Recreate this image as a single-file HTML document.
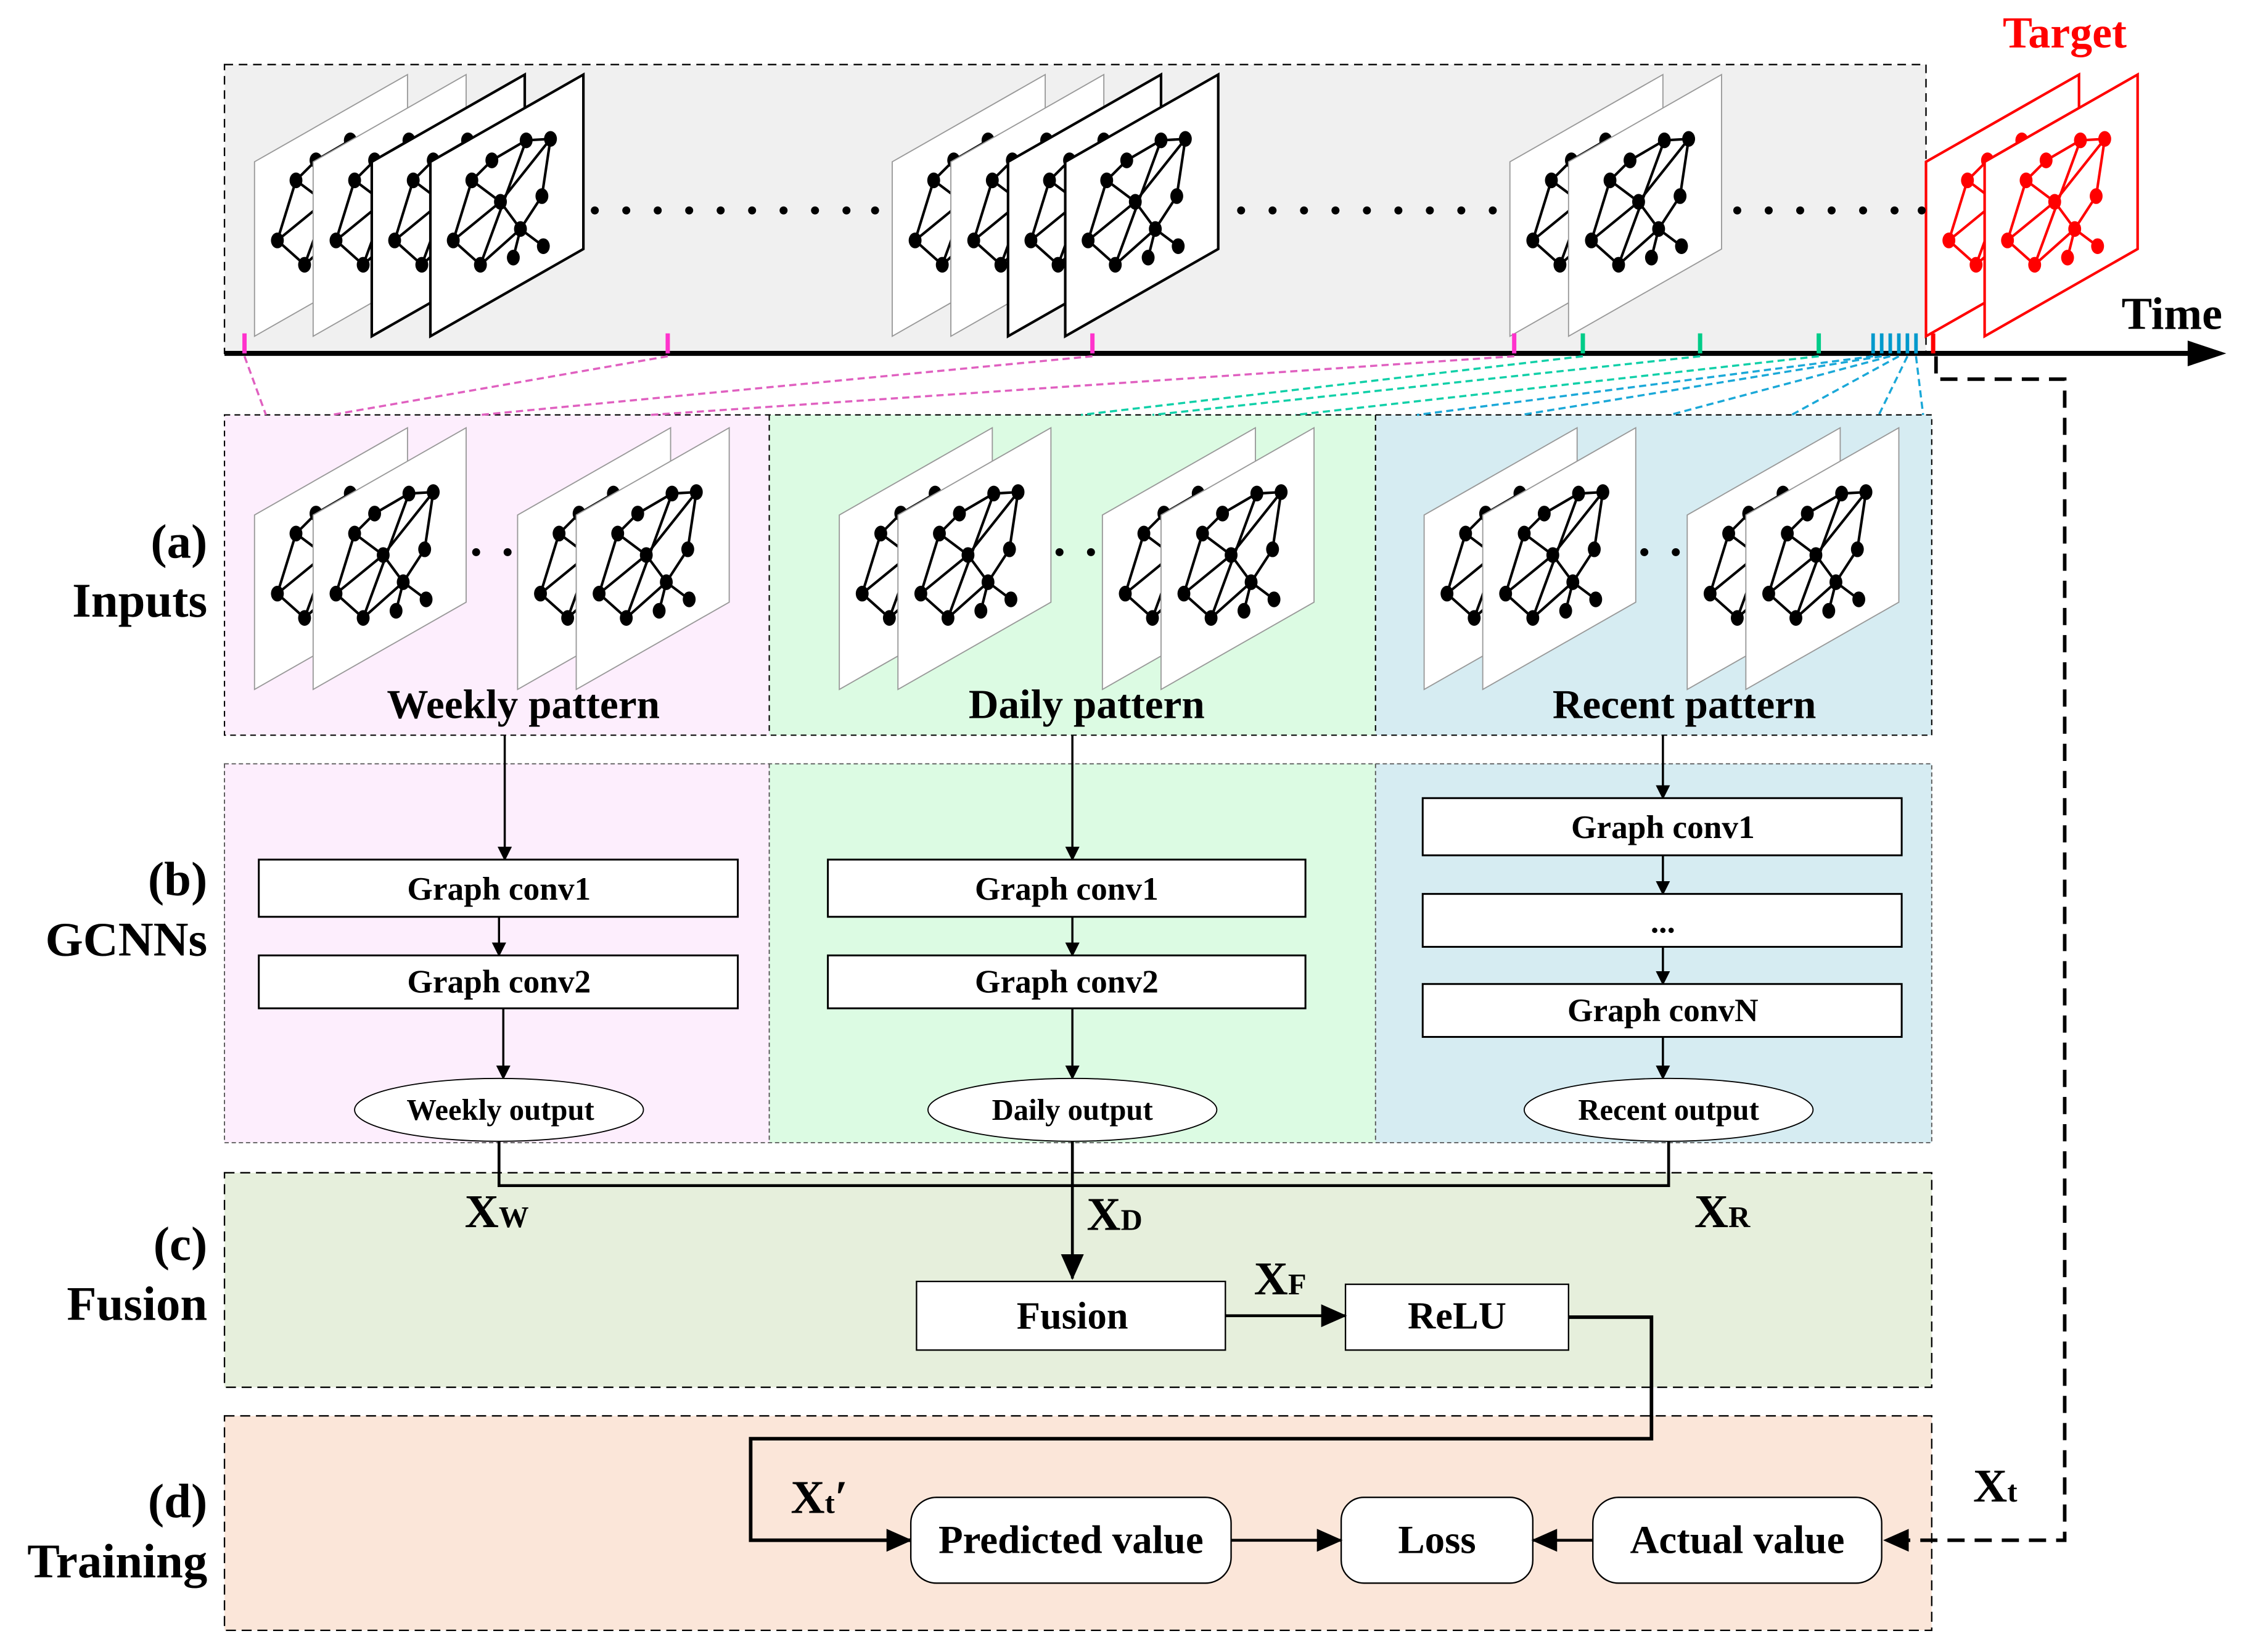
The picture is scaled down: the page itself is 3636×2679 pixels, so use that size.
<!DOCTYPE html>
<html><head><meta charset="utf-8">
<style>
html,body{margin:0;padding:0;background:#fff;}
svg{display:block;}
text{font-family:"Liberation Serif",serif;font-weight:bold;fill:#000;}
</style></head>
<body>
<svg width="3636" height="2679" viewBox="0 0 1568 1155" xmlns="http://www.w3.org/2000/svg" xmlns:xlink="http://www.w3.org/1999/xlink">
<defs>
  <g id="gr">
    <g stroke-width="1.8" fill="none">
      <line x1="67" y1="-137" x2="84" y2="-138"/>
      <line x1="67" y1="-137" x2="43" y2="-123"/>
      <line x1="43" y1="-123" x2="29" y2="-109"/>
      <line x1="29" y1="-109" x2="49" y2="-94"/>
      <line x1="29" y1="-109" x2="16" y2="-67"/>
      <line x1="84" y1="-138" x2="78" y2="-98"/>
      <line x1="84" y1="-138" x2="49" y2="-94"/>
      <line x1="78" y1="-98" x2="63" y2="-75"/>
      <line x1="49" y1="-94" x2="63" y2="-75"/>
      <line x1="49" y1="-94" x2="16" y2="-67"/>
      <line x1="67" y1="-137" x2="35" y2="-50"/>
      <line x1="16" y1="-67" x2="35" y2="-50"/>
      <line x1="35" y1="-50" x2="63" y2="-75"/>
      <line x1="63" y1="-75" x2="58" y2="-55"/>
      <line x1="63" y1="-75" x2="79" y2="-63"/>
    </g>
    <g stroke="none">
      <ellipse cx="67" cy="-137" rx="4.5" ry="5.5"/><ellipse cx="84" cy="-138" rx="4.5" ry="5.5"/>
      <ellipse cx="43" cy="-123" rx="4.5" ry="5.5"/><ellipse cx="29" cy="-109" rx="4.5" ry="5.5"/>
      <ellipse cx="78" cy="-98" rx="4.5" ry="5.5"/><ellipse cx="49" cy="-94" rx="4.5" ry="5.5"/>
      <ellipse cx="63" cy="-75" rx="4.5" ry="5.5"/><ellipse cx="16" cy="-67" rx="4.5" ry="5.5"/>
      <ellipse cx="35" cy="-50" rx="4.5" ry="5.5"/><ellipse cx="58" cy="-55" rx="4.5" ry="5.5"/>
      <ellipse cx="79" cy="-63" rx="4.5" ry="5.5"/>
    </g>
  </g>
  <g id="pThin"><polygon points="0,0 0,-122 107,-183 107,-61" fill="#fff" stroke="#999" stroke-width="0.8"/><g stroke="#000" fill="#000"><use xlink:href="#gr"/></g></g>
  <g id="pThick"><polygon points="0,0 0,-122 107,-183 107,-61" fill="#fff" stroke="#000" stroke-width="1.8"/><g stroke="#000" fill="#000"><use xlink:href="#gr"/></g></g>
  <g id="pRed"><polygon points="0,0 0,-122 107,-183 107,-61" fill="#fff" stroke="#f00" stroke-width="1.8"/><g stroke="#f00" fill="#f00"><use xlink:href="#gr"/></g></g>
  <marker id="ar" markerWidth="10" markerHeight="10" refX="9" refY="5" orient="auto" markerUnits="userSpaceOnUse"><path d="M0,0 L10,5 L0,10 z" fill="#000"/></marker>
  <marker id="arB" markerWidth="18" markerHeight="16" refX="17" refY="8" orient="auto" markerUnits="userSpaceOnUse"><path d="M0,0 L18,8 L0,16 z" fill="#000"/></marker>
</defs>

<rect x="157" y="45" width="1190" height="202" fill="#f0f0f0" stroke="#000" stroke-width="1" stroke-dasharray="6,4"/>
<use xlink:href="#pThin" x="178" y="235"/><use xlink:href="#pThin" x="219" y="235"/>
<use xlink:href="#pThick" x="260" y="235"/><use xlink:href="#pThick" x="301" y="235"/>
<use xlink:href="#pThin" x="624" y="235"/><use xlink:href="#pThin" x="665" y="235"/>
<use xlink:href="#pThick" x="705" y="235"/><use xlink:href="#pThick" x="745" y="235"/>
<use xlink:href="#pThin" x="1056" y="235"/><use xlink:href="#pThin" x="1097" y="235"/>
<use xlink:href="#pRed" x="1347" y="235"/><use xlink:href="#pRed" x="1388" y="235"/>
<g fill="#000">
  <circle cx="416" cy="147" r="2.8"/><circle cx="438" cy="147" r="2.8"/><circle cx="460" cy="147" r="2.8"/><circle cx="482" cy="147" r="2.8"/><circle cx="504" cy="147" r="2.8"/><circle cx="526" cy="147" r="2.8"/><circle cx="548" cy="147" r="2.8"/><circle cx="570" cy="147" r="2.8"/><circle cx="592" cy="147" r="2.8"/><circle cx="612" cy="147" r="2.8"/>
  <circle cx="868" cy="147" r="2.8"/><circle cx="890" cy="147" r="2.8"/><circle cx="912" cy="147" r="2.8"/><circle cx="934" cy="147" r="2.8"/><circle cx="956" cy="147" r="2.8"/><circle cx="978" cy="147" r="2.8"/><circle cx="1000" cy="147" r="2.8"/><circle cx="1022" cy="147" r="2.8"/><circle cx="1044" cy="147" r="2.8"/>
  <circle cx="1215" cy="147" r="2.8"/><circle cx="1237" cy="147" r="2.8"/><circle cx="1259" cy="147" r="2.8"/><circle cx="1281" cy="147" r="2.8"/><circle cx="1303" cy="147" r="2.8"/><circle cx="1325" cy="147" r="2.8"/><circle cx="1344" cy="147" r="2.8"/>
</g>
<text x="1444" y="33" font-size="31" text-anchor="middle" style="fill:#f00">Target</text>
<text x="1519" y="230" font-size="32" text-anchor="middle">Time</text>
<line x1="157" y1="247" x2="1535" y2="247" stroke="#000" stroke-width="3.5"/>
<path d="M1530,238 L1557,247 L1530,256 z" fill="#000"/>
<g stroke="#ff33cc" stroke-width="3"><line x1="171" y1="233" x2="171" y2="247"/><line x1="467" y1="233" x2="467" y2="247"/><line x1="764" y1="233" x2="764" y2="247"/><line x1="1059" y1="233" x2="1059" y2="247"/></g>
<g stroke="#00cc88" stroke-width="3"><line x1="1107" y1="233" x2="1107" y2="247"/><line x1="1189" y1="233" x2="1189" y2="247"/><line x1="1272" y1="233" x2="1272" y2="247"/></g>
<g stroke="#0099cc" stroke-width="2.5"><line x1="1310" y1="233" x2="1310" y2="247"/><line x1="1316" y1="233" x2="1316" y2="247"/><line x1="1322" y1="233" x2="1322" y2="247"/><line x1="1328" y1="233" x2="1328" y2="247"/><line x1="1334" y1="233" x2="1334" y2="247"/><line x1="1340" y1="233" x2="1340" y2="247"/></g>
<line x1="1352" y1="233" x2="1352" y2="247" stroke="#f00" stroke-width="3"/>

<rect x="157" y="290" width="381" height="224" fill="#fdeefd"/>
<rect x="538" y="290" width="424" height="224" fill="#dcfbe3"/>
<rect x="962" y="290" width="389" height="224" fill="#d6ecf2"/>
<g stroke="#000" stroke-width="0.9" stroke-dasharray="4,3" fill="none">
<rect x="157" y="290" width="1194" height="224"/><line x1="538" y1="290" x2="538" y2="514"/><line x1="962" y1="290" x2="962" y2="514"/>
</g>

<g stroke="#e060c0" stroke-width="1.5" stroke-dasharray="5,3" fill="none">
<line x1="171" y1="249" x2="186" y2="290"/><line x1="467" y1="249" x2="232" y2="290"/><line x1="764" y1="249" x2="336" y2="290"/><line x1="1059" y1="249" x2="455" y2="290"/>
</g>
<g stroke="#10d0a8" stroke-width="1.5" stroke-dasharray="5,3" fill="none">
<line x1="1107" y1="249" x2="756" y2="290"/><line x1="1189" y1="249" x2="806" y2="290"/><line x1="1272" y1="249" x2="906" y2="290"/>
</g>
<g stroke="#1aa8d8" stroke-width="1.5" stroke-dasharray="5,3" fill="none">
<line x1="1310" y1="249" x2="991" y2="290"/><line x1="1316" y1="249" x2="1064" y2="290"/><line x1="1322" y1="249" x2="1168" y2="290"/><line x1="1328" y1="249" x2="1253" y2="290"/><line x1="1334" y1="249" x2="1314" y2="290"/><line x1="1340" y1="249" x2="1345" y2="290"/>
</g>

<use xlink:href="#pThin" x="178" y="482"/><use xlink:href="#pThin" x="219" y="482"/>
<use xlink:href="#pThin" x="362" y="482"/><use xlink:href="#pThin" x="403" y="482"/>
<use xlink:href="#pThin" x="587" y="482"/><use xlink:href="#pThin" x="628" y="482"/>
<use xlink:href="#pThin" x="771" y="482"/><use xlink:href="#pThin" x="812" y="482"/>
<use xlink:href="#pThin" x="996" y="482"/><use xlink:href="#pThin" x="1037" y="482"/>
<use xlink:href="#pThin" x="1180" y="482"/><use xlink:href="#pThin" x="1221" y="482"/>
<g fill="#000"><circle cx="333" cy="386" r="2.8"/><circle cx="355" cy="386" r="2.8"/><circle cx="741" cy="386" r="2.8"/><circle cx="763" cy="386" r="2.8"/><circle cx="1150" cy="386" r="2.8"/><circle cx="1172" cy="386" r="2.8"/></g>
<text x="366" y="502" font-size="29" text-anchor="middle">Weekly pattern</text>
<text x="760" y="502" font-size="29" text-anchor="middle">Daily pattern</text>
<text x="1178" y="502" font-size="29" text-anchor="middle">Recent pattern</text>

<rect x="157" y="534" width="381" height="265" fill="#fdeefd"/>
<rect x="538" y="534" width="424" height="265" fill="#dcfbe3"/>
<rect x="962" y="534" width="389" height="265" fill="#d6ecf2"/>
<g stroke="#555" stroke-width="0.8" stroke-dasharray="3,2" fill="none">
<rect x="157" y="534" width="1194" height="265"/><line x1="538" y1="534" x2="538" y2="799"/><line x1="962" y1="534" x2="962" y2="799"/>
</g>
<g stroke="#000" stroke-width="1.5" fill="none" marker-end="url(#ar)">
<line x1="353" y1="514" x2="353" y2="601"/><line x1="349" y1="641" x2="349" y2="668"/><line x1="352" y1="705" x2="352" y2="754"/>
<line x1="750" y1="514" x2="750" y2="601"/><line x1="750" y1="641" x2="750" y2="668"/><line x1="750" y1="705" x2="750" y2="754"/>
<line x1="1163" y1="514" x2="1163" y2="558"/><line x1="1163" y1="598" x2="1163" y2="625"/><line x1="1163" y1="662" x2="1163" y2="688"/><line x1="1163" y1="725" x2="1163" y2="754"/>
</g>
<g fill="#fff" stroke="#000" stroke-width="1.3">
<rect x="181" y="601" width="335" height="40"/><rect x="181" y="668" width="335" height="37"/>
<rect x="579" y="601" width="334" height="40"/><rect x="579" y="668" width="334" height="37"/>
<rect x="995" y="558" width="335" height="40"/><rect x="995" y="625" width="335" height="37"/><rect x="995" y="688" width="335" height="37"/>
<ellipse cx="349" cy="776" rx="101" ry="22" stroke-width="0.8"/><ellipse cx="750" cy="776" rx="101" ry="22" stroke-width="0.8"/><ellipse cx="1167" cy="776" rx="101" ry="22" stroke-width="0.8"/>
</g>
<g font-size="23" text-anchor="middle">
<text x="349" y="629">Graph conv1</text><text x="349" y="694">Graph conv2</text>
<text x="746" y="629">Graph conv1</text><text x="746" y="694">Graph conv2</text>
<text x="1163" y="586">Graph conv1</text><text x="1163" y="652">...</text><text x="1163" y="714">Graph convN</text>
</g>
<g font-size="21" text-anchor="middle">
<text x="350" y="783">Weekly output</text><text x="750" y="783">Daily output</text><text x="1167" y="783">Recent output</text>
</g>

<rect x="157" y="820" width="1194" height="150" fill="#e6efdc" stroke="#000" stroke-width="1" stroke-dasharray="7,4"/>
<polyline points="349,798 349,829 1167,829 1167,798" fill="none" stroke="#000" stroke-width="2"/>
<line x1="750" y1="798" x2="750" y2="894" stroke="#000" stroke-width="2" marker-end="url(#arB)"/>
<text x="325" y="858" font-size="33">X<tspan font-size="21">W</tspan></text>
<text x="760" y="860" font-size="33">X<tspan font-size="21">D</tspan></text>
<text x="1185" y="858" font-size="33">X<tspan font-size="21">R</tspan></text>
<text x="877" y="905" font-size="33">X<tspan font-size="21">F</tspan></text>
<rect x="641" y="896" width="216" height="48" fill="#fff" stroke="#000" stroke-width="1"/>
<rect x="941" y="898" width="156" height="46" fill="#fff" stroke="#000" stroke-width="1"/>
<text x="750" y="929" font-size="27" text-anchor="middle">Fusion</text>
<text x="1019" y="929" font-size="27" text-anchor="middle">ReLU</text>
<line x1="857" y1="920" x2="941" y2="920" stroke="#000" stroke-width="2" marker-end="url(#arB)"/>

<rect x="157" y="990" width="1194" height="150" fill="#fbe6d9" stroke="#000" stroke-width="1" stroke-dasharray="7,4"/>
<polyline points="1097,921 1155,921 1155,1006 525,1006 525,1077 637,1077" fill="none" stroke="#000" stroke-width="2.5" marker-end="url(#arB)"/>
<g fill="#fff" stroke="#000" stroke-width="1">
<rect x="637" y="1047" width="224" height="60" rx="18"/><rect x="938" y="1047" width="134" height="60" rx="16"/><rect x="1114" y="1047" width="202" height="60" rx="18"/>
</g>
<g font-size="28" text-anchor="middle">
<text x="749" y="1086">Predicted value</text><text x="1005" y="1086">Loss</text><text x="1215" y="1086">Actual value</text>
</g>
<line x1="861" y1="1077" x2="938" y2="1077" stroke="#000" stroke-width="2" marker-end="url(#arB)"/>
<line x1="1114" y1="1077" x2="1072" y2="1077" stroke="#000" stroke-width="2" marker-end="url(#arB)"/>
<polyline points="1354,249 1354,265 1444,265 1444,1077 1318,1077" fill="none" stroke="#000" stroke-width="2.5" stroke-dasharray="12,7" marker-end="url(#arB)"/>
<text x="553" y="1058" font-size="33">X<tspan font-size="21">t</tspan>′</text>
<text x="1380" y="1050" font-size="33">X<tspan font-size="21">t</tspan></text>

<g font-size="34" text-anchor="end">
<text x="145" y="390">(a)</text><text x="145" y="431">Inputs</text>
<text x="145" y="626">(b)</text><text x="145" y="668">GCNNs</text>
<text x="145" y="881">(c)</text><text x="145" y="923">Fusion</text>
<text x="145" y="1061">(d)</text><text x="145" y="1103">Training</text>
</g>
</svg>
</body></html>
